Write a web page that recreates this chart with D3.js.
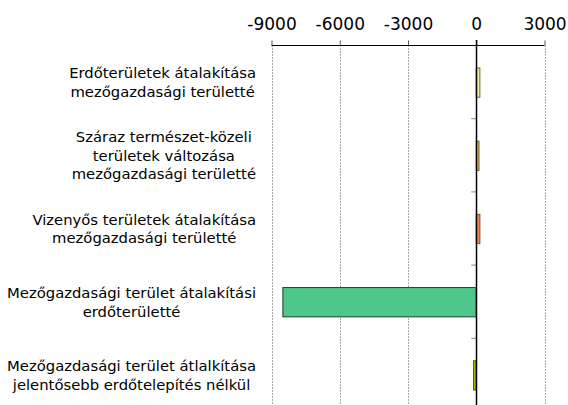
<!DOCTYPE html>
<html>
<head>
<meta charset="utf-8">
<script src="https://cdn.jsdelivr.net/npm/d3@7"></script>
<style>
body { margin: 0; background: #fff; }
svg { font-family: "DejaVu Sans", Verdana, sans-serif; }
</style>
</head>
<body>
<svg id="chart" width="568" height="405"></svg>
<script>
// categories (line breaks as in the original)
var categories = [
    ["Erdőterületek átalakítása", "mezőgazdasági területté"],
    ["Száraz természet-közeli", "területek változása", "mezőgazdasági területté"],
    ["Vizenyős területek átalakítása", "mezőgazdasági területté"],
    ["Mezőgazdasági terület átalakítási", "erdőterületté"],
    ["Mezőgazdasági terület átlalkítása", "jelentősebb erdőtelepítés nélkül"]
];
var values = [160, 120, 160, -8500, -120];
var fills = ["#eeee99", "#d9b255", "#f08a50", "#4ec78a", "#a8b800"];
var strokes = ["#6e6e3a", "#7a6228", "#8a4a2a", "#1d3d2c", "#5a6000"];
var tickValues = [-9000, -6000, -3000, 0, 3000];

var svg = d3.select("#chart");

var x = d3.scaleLinear().domain([-9000, 3000]).range([271.5, 544.5]);
var y = d3.scaleBand().domain(d3.range(categories.length)).range([46, 412]).paddingInner(0.6).paddingOuter(0.3);

// gridlines
svg.append("g").selectAll("line")
    .data(tickValues.filter(function (d) { return d !== 0; }))
    .enter().append("line")
    .attr("x1", function (d) { return Math.round(x(d)) + 0.5; })
    .attr("x2", function (d) { return Math.round(x(d)) + 0.5; })
    .attr("y1", 45).attr("y2", 405)
    .style("stroke", "#aaa")
    .style("stroke-dasharray", "2,1");

// top axis
var axis = d3.axisTop(x).tickValues(tickValues).tickSize(5).tickPadding(11)
    .tickFormat(function (d) { return String(d); });
var ga = svg.append("g").attr("transform", "translate(0,45.5)").call(axis);
ga.select(".domain").attr("d", "M" + x(-9000) + ",0H" + x(3000)).style("stroke", "#000");
ga.selectAll(".tick line").style("stroke", "#555");
ga.selectAll("text").style("font-size", "17px").style("font-family", "DejaVu Sans").attr("fill", "#000");

// bars
svg.append("g").selectAll("rect")
    .data(values)
    .enter().append("rect")
    .attr("x", function (d) { return x(Math.min(0, d)); })
    .attr("y", function (d, i) { return y(i); })
    .attr("width", function (d) { return Math.abs(x(d) - x(0)); })
    .attr("height", y.bandwidth())
    .style("fill", function (d, i) { return fills[i]; })
    .style("stroke", function (d, i) { return strokes[i]; })
    .style("stroke-width", 1);

// category separator ticks on zero line
var step = y.step();
svg.append("g").selectAll("line")
    .data(d3.range(1, categories.length))
    .enter().append("line")
    .attr("x1", x(0) - 5).attr("x2", x(0))
    .attr("y1", function (i) { return y(i) - y.paddingInner() * step / 2 - 0.5; })
    .attr("y2", function (i) { return y(i) - y.paddingInner() * step / 2 - 0.5; })
    .style("stroke", "#888");

// zero line
svg.append("line")
    .attr("x1", Math.round(x(0)) + 0.5).attr("x2", Math.round(x(0)) + 0.5)
    .attr("y1", 40).attr("y2", 405)
    .style("stroke", "#000").style("stroke-width", 1.5);

// category labels: block right-aligned, lines centred
var labelRight = 256, lineH = 18.6;
categories.forEach(function (lines, i) {
    var cy = y(i) + y.bandwidth() / 2;
    var t = svg.append("text")
        .style("font-size", "14.8px")
        .attr("fill", "#000")
        .attr("text-anchor", "middle");
    lines.forEach(function (s, k) {
        t.append("tspan").text(s);
    });
    var maxW = 0;
    t.selectAll("tspan").each(function () { maxW = Math.max(maxW, this.getComputedTextLength()); });
    var cx = labelRight - maxW / 2;
    var y0 = cy - (lines.length - 1) * lineH / 2 + 5;
    t.selectAll("tspan")
        .attr("x", cx)
        .attr("y", function (d, k) { return y0 + k * lineH; });
});
</script>
</body>
</html>
